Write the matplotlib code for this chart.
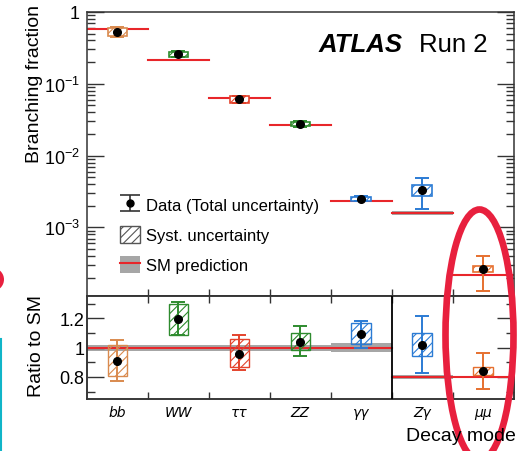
import numpy as np
import matplotlib
matplotlib.use('Agg')
import matplotlib.pyplot as plt
from matplotlib.patches import Rectangle, Ellipse, Patch
from matplotlib.lines import Line2D
from matplotlib.ticker import FixedLocator, NullFormatter, LogLocator

plt.rcParams['font.family'] = ['Liberation Sans', 'DejaVu Sans']
plt.rcParams['mathtext.fontset'] = 'custom'
plt.rcParams['mathtext.rm'] = 'Liberation Sans'
plt.rcParams['mathtext.it'] = 'Liberation Sans:italic'
plt.rcParams['mathtext.bf'] = 'Liberation Sans:bold'
plt.rcParams['hatch.linewidth'] = 0.8

# ---------------- data ----------------
categories = ['bb', 'WW', 'ττ', 'ZZ', 'γγ', 'Zγ', 'μμ']
colors = ['#D98A4E', '#2E8B2E', '#E4432C', '#2E8B2E', '#2B7BD4', '#2B7BD4', '#E6702F']
sm_br = [0.58, 0.215, 0.0630, 0.0265, 0.00230, 0.00157, 0.000220]
sm_rel_unc = [0.02, 0.02, 0.02, 0.02, 0.03, 0.065, 0.02]
ratio = [0.91, 1.195, 0.96, 1.04, 1.09, 2.10, 1.20]
ratio_tot_lo = [0.775, 1.085, 0.85, 0.94, 1.00, 1.15, 0.60]
ratio_tot_hi = [1.055, 1.31, 1.085, 1.15, 1.18, 3.09, 1.83]
ratio_syst_lo = [0.808, 1.088, 0.87, 0.985, 1.025, 1.73, 1.08]
ratio_syst_hi = [1.016, 1.30, 1.06, 1.10, 1.165, 2.50, 1.34]
n_left = 5  # categories drawn on the left ratio scale

br_ticks = [1, 0.1, 0.01, 0.001]
br_tick_labels = ['1', r'$10^{-1}$', r'$10^{-2}$', r'$10^{-3}$']
ratio_ticks = [0.8, 1.0, 1.2]
ratio_tick_labels = ['0.8', '1', '1.2']
ratio_minor = [0.7, 0.9, 1.1, 1.3]
ratio2_ticks = [1, 2, 3]
ratio2_minor = [0.5, 1.5, 2.5, 3.5]

SM_RED = '#E8262A'
SM_GREY = '#A6A6A6'
AX_COL = '#333333'
BOX_W = 0.32

# ---------------- figure ----------------
W, H = 522, 452
fig = plt.figure(figsize=(W / 100, H / 100), dpi=100)
L, R = 87 / W, 513.5 / W
ax = fig.add_axes([L, 1 - 297.3 / H, R - L, (297.3 - 12.9) / H])
axr = fig.add_axes([L, 1 - 400 / H, R - L, (400 - 297.3) / H])
axr2 = axr.twinx()

x = np.arange(len(categories))

# top panel
for i in range(len(categories)):
    sm = sm_br[i]
    u = sm_rel_unc[i]
    c = colors[i]
    ax.fill_between([i, i + 1], [sm * (1 - u)] * 2, [sm * (1 + u)] * 2, color=SM_GREY, lw=0, zorder=1)
    ax.plot([i, i + 1], [sm, sm], color=SM_RED, lw=1.5, zorder=2)
    lo, hi = ratio_syst_lo[i] * sm, ratio_syst_hi[i] * sm
    ax.add_patch(Rectangle((i + 0.5 - BOX_W / 2, lo), BOX_W, hi - lo, facecolor='white',
                           hatch='////', edgecolor=c, lw=1.2, zorder=3))
    val = ratio[i] * sm
    ax.errorbar([i + 0.5], [val], yerr=[[val - ratio_tot_lo[i] * sm], [ratio_tot_hi[i] * sm - val]],
                fmt='none', ecolor=c, capsize=5, elinewidth=1.4, capthick=1.4, zorder=4)
    ax.plot([i + 0.5], [val], 'o', color='black', ms=5.5, zorder=5)

ax.set_yscale('log')
ax.set_ylim(1.1e-4, 1)
ax.set_xlim(0, len(categories))
ax.yaxis.set_major_locator(FixedLocator(br_ticks))
ax.set_yticklabels(br_tick_labels)
ax.yaxis.set_minor_locator(LogLocator(base=10, subs=np.arange(2, 10) * 1.0, numticks=20))
ax.yaxis.set_minor_formatter(NullFormatter())
ax.tick_params(axis='y', which='both', direction='in', left=True, right=True, colors=AX_COL, labelcolor='black')
ax.tick_params(axis='y', which='major', length=12, width=1.0, labelsize=13, pad=5)
ax.tick_params(axis='y', which='minor', length=6, width=1.0)
ax.set_xticks(np.arange(1, len(categories)))
ax.tick_params(axis='x', which='both', direction='in', length=5, width=1.0, labelbottom=False,
               top=False, colors=AX_COL)

# ratio panel
for i in range(len(categories)):
    a = axr if i < n_left else axr2
    u = sm_rel_unc[i]
    a.fill_between([i, i + 1], [1 - u] * 2, [1 + u] * 2, color=SM_GREY, lw=0, zorder=1)
axr.plot([0, n_left], [1, 1], color=SM_RED, lw=1.5, zorder=2)
axr2.plot([n_left, len(categories)], [1, 1], color=SM_RED, lw=1.5, zorder=2)
for i in range(len(categories)):
    a = axr if i < n_left else axr2
    c = colors[i]
    lo, hi = ratio_syst_lo[i], ratio_syst_hi[i]
    a.add_patch(Rectangle((i + 0.5 - BOX_W / 2, lo), BOX_W, hi - lo, facecolor='none',
                          hatch='////', edgecolor=c, lw=1.0, zorder=3))
    a.errorbar([i + 0.5], [ratio[i]], yerr=[[ratio[i] - ratio_tot_lo[i]], [ratio_tot_hi[i] - ratio[i]]],
               fmt='none', ecolor=c, capsize=5, elinewidth=1.4, capthick=1.4, zorder=4)
    a.plot([i + 0.5], [ratio[i]], 'o', color='black', ms=5.5, zorder=5)
axr2.axvline(n_left, color='black', lw=1.3, zorder=6)

axr.set_xlim(0, len(categories))
axr.set_ylim(0.65, 1.35)
axr.yaxis.set_major_locator(FixedLocator(ratio_ticks))
axr.set_yticklabels(ratio_tick_labels)
axr.yaxis.set_minor_locator(FixedLocator(ratio_minor))
axr.tick_params(axis='y', which='both', direction='in', left=True, right=False, colors=AX_COL, labelcolor='black')
axr.tick_params(axis='y', which='major', length=12, width=1.0, labelsize=13, pad=2)
axr.tick_params(axis='y', which='minor', length=6, width=1.0)
axr.set_xticks(np.arange(1, len(categories)))
axr.set_xticklabels([])
axr.set_xticks(x + 0.5, minor=True)
axr.set_xticklabels(categories, minor=True, fontsize=10, fontstyle='italic', fontfamily='DejaVu Sans')
axr.tick_params(axis='x', which='major', direction='in', length=5, width=1.0, top=True, bottom=True, colors=AX_COL)
axr.tick_params(axis='x', which='minor', length=0, pad=4)

axr2.set_ylim(0.25, 3.75)
axr2.yaxis.set_major_locator(FixedLocator(ratio2_ticks))
axr2.yaxis.set_minor_locator(FixedLocator(ratio2_minor))
axr2.tick_params(axis='y', which='both', direction='in', right=True, labelright=False, colors=AX_COL)
axr2.tick_params(axis='y', which='major', length=12, width=1.0)
axr2.tick_params(axis='y', which='minor', length=6, width=1.0)

for a in (ax, axr, axr2):
    for s in a.spines.values():
        s.set_color(AX_COL)
        s.set_linewidth(1.1)

# labels
fig.text(35 / W, 1 - 84 / H, 'Branching fraction', rotation=90, ha='center', va='center', fontsize=14)
fig.text(36.5 / W, 1 - 346.5 / H, 'Ratio to SM', rotation=90, ha='center', va='center', fontsize=14)
fig.text(516 / W, 1 - 436.7 / H, 'Decay mode', ha='right', va='center', fontsize=14)
fig.text(319 / W, 1 - 52 / H, 'ATLAS', fontweight='bold', fontstyle='italic', fontsize=18.5, va='baseline')
fig.text(419 / W, 1 - 52 / H, 'Run 2', fontsize=18.5, va='baseline')

# legend
h_data = ax.errorbar([np.nan], [np.nan], yerr=[[np.nan], [np.nan]], fmt='o', color=AX_COL, mfc='black',
                     mec='black', ms=5, capsize=7, elinewidth=1.2, capthick=1.2)
h_syst = Patch(facecolor='white', edgecolor='#555555', hatch='////', lw=1.0)
h_sm = (Patch(facecolor=SM_GREY, edgecolor='none'), Line2D([], [], color=SM_RED, lw=1.5))
ax.legend([h_data, h_syst, h_sm], ['Data (Total uncertainty)', 'Syst. uncertainty', 'SM prediction'],
          loc='upper left', bbox_to_anchor=(120 / W, 1 - 197 / H), bbox_transform=fig.transFigure,
          frameon=False, fontsize=12, handlelength=1.2, handleheight=1.2, handletextpad=0.35,
          labelspacing=0.76, borderpad=0, borderaxespad=0)

# annotation marks present in the reference image
fig.add_artist(Ellipse((479.5 / W, 1 - 336 / H), width=68 / W, height=251 / H, transform=fig.transFigure,
                       fill=False, edgecolor='#E8203E', lw=4.8))
fig.add_artist(Ellipse((-7.7 / W, 1 - 280.5 / H), width=23.4 / W, height=23.4 / H, transform=fig.transFigure,
                       facecolor='#E8203E', edgecolor='none'))
fig.add_artist(Line2D([1.2 / W, 1.2 / W], [1 - 340 / H, 0], transform=fig.transFigure, color='#10B5C8', lw=1.5))

fig.savefig('out.png', dpi=100)
